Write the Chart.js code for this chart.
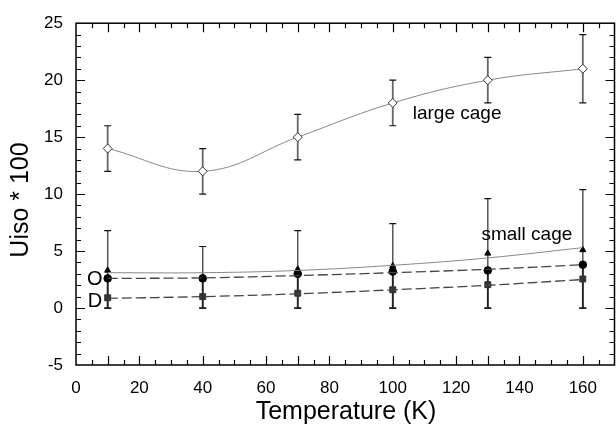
<!DOCTYPE html>
<html>
<head>
<meta charset="utf-8">
<script src="https://cdn.jsdelivr.net/npm/chart.js@4"></script>
<style>
  html, body { margin: 0; padding: 0; background: #fff; overflow: hidden; }
  #wrap { width: 620px; height: 426px; }
</style>
</head>
<body>
<div id="wrap"><canvas id="chart" width="620" height="426"></canvas></div>
<script>
// temperatures (K)
const temps = [10, 40, 70, 100, 130, 160];

// large cage, open diamonds, with error bars
const largeCage = [14, 12, 15, 18, 20, 21];
const largeErrLow = [12, 10, 13, 16, 18, 18];
const largeErrHigh = [16, 14, 17, 20, 22, 24];

// small cage, triangles, and its fit line
const smallCage = [3.3, 2.7, 3.4, 3.7, 4.8, 5.1];
const smallCageFit = [3.1, 3.1, 3.3, 3.75, 4.4, 5.3];
const smallErrLow = [0, 0, 0, 0, 0, 0];
const smallErrHigh = [6.8, 5.4, 6.8, 7.4, 9.6, 10.4];

// O, filled circles, and its fit line
const oxygen = [2.6, 2.6, 3.0, 3.2, 3.3, 3.8];
const oxygenFit = [2.6, 2.65, 2.85, 3.1, 3.4, 3.8];

// D, filled squares, and its fit line
const deut = [0.9, 1.0, 1.3, 1.6, 2.05, 2.55];
const deutFit = [0.85, 1.0, 1.25, 1.6, 2.0, 2.5];

const xTicks = [0, 20, 40, 60, 80, 100, 120, 140, 160];
const yTicks = [-5, 0, 5, 10, 15, 20, 25];

const FONT = '"Liberation Sans", Arial, sans-serif';

// text labels placed in data units: [text, x, y(baseline), size]
const notes = [
    ['large cage', 106.3, 16.55, 19],
    ['small cage', 128.0, 6.0, 19],
    ['O', 3.5, 2.0, 20],
    ['D', 3.7, 0.1, 20]
];

function pts(ys) {
    return temps.map((t, i) => ({x: t, y: ys[i]}));
}

const errorBars = {
    id: 'errorBars',
    beforeDatasetsDraw(chart) {
        const ctx = chart.ctx, xs = chart.scales.x, ys = chart.scales.y;
        const draw = (low, high, stem, cap, w) => {
            temps.forEach((t, i) => {
                const x = xs.getPixelForValue(t);
                const y0 = ys.getPixelForValue(low[i]);
                const y1 = ys.getPixelForValue(high[i]);
                ctx.strokeStyle = stem;
                ctx.lineWidth = w;
                ctx.beginPath();
                ctx.moveTo(x, y0);
                ctx.lineTo(x, y1);
                ctx.stroke();
                ctx.strokeStyle = cap;
                ctx.lineWidth = 1.2;
                ctx.beginPath();
                ctx.moveTo(x - 3.5, y0); ctx.lineTo(x + 3.5, y0);
                ctx.moveTo(x - 3.5, y1); ctx.lineTo(x + 3.5, y1);
                ctx.stroke();
            });
        };
        ctx.save();
        draw(largeErrLow, largeErrHigh, '#666', '#111', 1.8);
        draw(smallErrLow, smallErrHigh, '#555', '#111', 1.5);
        // darker overlap near the O/D points
        draw(smallErrLow, oxygen, '#222', '#111', 1.8);
        ctx.restore();
    }
};

const frame = {
    id: 'frame',
    afterDraw(chart) {
        const ctx = chart.ctx, a = chart.chartArea;
        const xs = chart.scales.x, ys = chart.scales.y;
        ctx.save();
        ctx.strokeStyle = '#000';
        ctx.lineWidth = 1.5;
        ctx.strokeRect(a.left, a.top, a.right - a.left, a.bottom - a.top);
        ctx.lineWidth = 1.2;
        ctx.beginPath();
        for (let v = 5; v < 170; v += 5) {
            const x = Math.round(xs.getPixelForValue(v)) + 0.5;
            const len = (v % 20 === 0 || temps.includes(v)) ? 9 : 5;
            ctx.moveTo(x, a.bottom); ctx.lineTo(x, a.bottom - len);
            ctx.moveTo(x, a.top); ctx.lineTo(x, a.top + len);
        }
        for (let v = -4; v < 25; v++) {
            const y = Math.round(ys.getPixelForValue(v)) + 0.5;
            const len = v % 5 === 0 ? 9 : 5;
            ctx.moveTo(a.left, y); ctx.lineTo(a.left + len, y);
            ctx.moveTo(a.right, y); ctx.lineTo(a.right - len, y);
        }
        ctx.stroke();

        // axis titles
        ctx.fillStyle = '#000';
        ctx.font = '25px ' + FONT;
        ctx.textAlign = 'center';
        ctx.textBaseline = 'alphabetic';
        ctx.fillText('Temperature (K)', (a.left + 616) / 2, 419);
        ctx.translate(28, 200);
        ctx.rotate(-Math.PI / 2);
        ctx.fillText('Uiso * 100', 0, 0);
        ctx.restore();

        ctx.save();
        ctx.fillStyle = '#000';
        ctx.textAlign = 'left';
        ctx.textBaseline = 'alphabetic';
        notes.forEach(([text, x, y, size]) => {
            ctx.font = size + 'px ' + FONT;
            ctx.fillText(text, xs.getPixelForValue(x), ys.getPixelForValue(y));
        });
        ctx.restore();
    }
};

new Chart(document.getElementById('chart'), {
    type: 'scatter',
    data: {
        datasets: [
            {
                data: pts(smallCageFit), showLine: true, pointRadius: 0,
                borderColor: '#888', borderWidth: 1, tension: 0.4
            },
            {
                data: pts(oxygenFit), showLine: true, pointRadius: 0,
                borderColor: '#444', borderWidth: 1.3, borderDash: [10, 4], tension: 0.4
            },
            {
                data: pts(deutFit), showLine: true, pointRadius: 0,
                borderColor: '#444', borderWidth: 1.3, borderDash: [10, 4], tension: 0.4
            },
            {
                data: pts(largeCage), showLine: true, tension: 0.4,
                borderColor: '#888', borderWidth: 1,
                pointStyle: 'rectRot', pointRadius: 4.5,
                pointBackgroundColor: '#fff', pointBorderColor: '#333', pointBorderWidth: 1
            },
            {
                data: pts(smallCage), pointStyle: 'triangle', pointRadius: 3.5,
                pointBackgroundColor: '#000', pointBorderColor: '#000'
            },
            {
                data: pts(oxygen), pointStyle: 'circle', pointRadius: 3.8,
                pointBackgroundColor: '#000', pointBorderColor: '#000'
            },
            {
                data: pts(deut), pointStyle: 'rect', pointRadius: 4.2,
                pointBackgroundColor: '#333', pointBorderColor: '#333'
            }
        ]
    },
    options: {
        responsive: false,
        animation: false,
        devicePixelRatio: 1,
        layout: { padding: { top: 18, right: 2, left: 0, bottom: 0 } },
        plugins: { legend: { display: false }, tooltip: { enabled: false } },
        scales: {
            x: {
                type: 'linear', min: 0, max: 170,
                grid: { display: false, drawTicks: false },
                border: { display: false },
                afterBuildTicks: s => { s.ticks = xTicks.map(v => ({value: v})); },
                afterFit: s => { s.height = 61; },
                ticks: {
                    padding: 13, color: '#000', maxRotation: 0, autoSkip: false,
                    font: { family: FONT, size: 17 }
                }
            },
            y: {
                type: 'linear', min: -5, max: 25,
                grid: { display: false, drawTicks: false },
                border: { display: false },
                afterBuildTicks: s => { s.ticks = yTicks.map(v => ({value: v})); },
                afterFit: s => { s.width = 76; },
                ticks: {
                    padding: 13, color: '#000',
                    font: { family: FONT, size: 17 }
                }
            }
        }
    },
    plugins: [errorBars, frame]
});
</script>
</body>
</html>
